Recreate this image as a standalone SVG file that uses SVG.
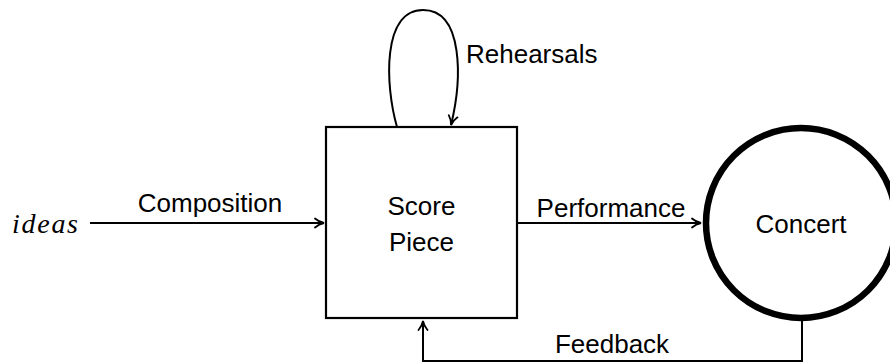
<svg xmlns="http://www.w3.org/2000/svg" width="890" height="364" viewBox="0 0 890 364">
<defs>
<style>
.t{font-family:"Liberation Sans",Arial,sans-serif;font-size:26px;fill:#000}
.conn{fill:none;stroke:#000;stroke-width:2}
</style>
<marker id="ah" viewBox="0 0 12 12" refX="10" refY="6" markerWidth="12" markerHeight="12" markerUnits="userSpaceOnUse" orient="auto">
<path d="M1,1.5 Q5,5 10,6 Q5,7 1,10.5" fill="none" stroke="#000" stroke-width="1.8" stroke-linecap="round"/>
</marker>
</defs>
<rect width="890" height="364" fill="#fff"/>
<g id="connectors">
<line class="conn" x1="90" y1="223" x2="324" y2="223" marker-end="url(#ah)"/>
<line class="conn" x1="517" y1="223" x2="701" y2="223" marker-end="url(#ah)"/>
<path class="conn" d="M397,127 C385,85 382,10 423,10 C464,10 462,80 451,125" marker-end="url(#ah)"/>
<path class="conn" d="M802,321 L802,361 L423,361 L423,321" marker-end="url(#ah)"/>
</g>
<g id="labels">
<text class="t" x="210" y="212" text-anchor="middle">Composition</text>
<text class="t" x="611" y="217" text-anchor="middle">Performance</text>
<text class="t" x="466" y="63">Rehearsals</text>
<text class="t" x="612" y="353" text-anchor="middle">Feedback</text>
</g>
<g id="ideas">
<text x="12" y="233" textLength="66" lengthAdjust="spacing" style="font-family:'Liberation Serif','Times New Roman',serif;font-style:italic;font-size:28px">ideas</text>
</g>
<g id="score">
<rect x="326" y="127" width="191" height="191" fill="none" stroke="#000" stroke-width="2.2"/>
<text class="t" x="421.5" y="215" text-anchor="middle">Score</text>
<text class="t" x="421.5" y="251" text-anchor="middle">Piece</text>
</g>
<g id="concert">
<circle cx="801" cy="223" r="95" fill="none" stroke="#000" stroke-width="6.5"/>
<text class="t" x="801" y="233" text-anchor="middle">Concert</text>
</g>
</svg>
